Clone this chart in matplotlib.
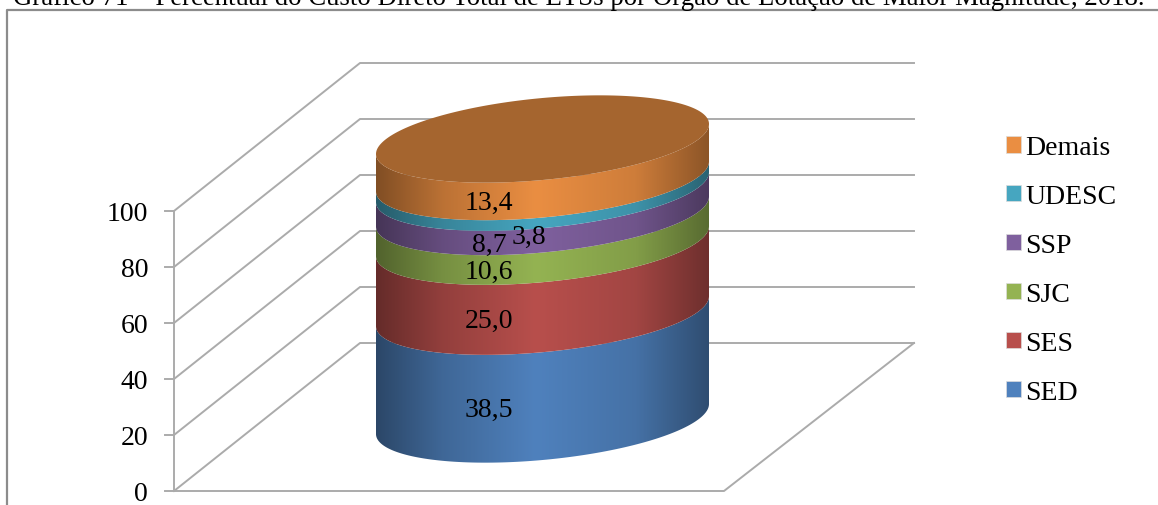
import numpy as np
import matplotlib
matplotlib.use("Agg")
import matplotlib.pyplot as plt
from matplotlib.colors import LinearSegmentedColormap, to_rgb
from matplotlib.patches import Patch, Polygon

plt.rcParams["font.family"] = ["Liberation Serif", "DejaVu Serif"]

TITLE = "Gráfico 71 – Percentual do Custo Direto Total de ETSs por Órgão de Lotação de Maior Magnitude, 2018."
CATEGORIES = ["SED", "SES", "SJC", "SSP", "UDESC", "Demais"]
VALUES = [38.5, 25.0, 10.6, 8.7, 3.8, 13.4]
LABELS = ["38,5", "25,0", "10,6", "8,7", "3,8", "13,4"]
COLORS = ["#4F81BD", "#B84F4C", "#94B352", "#7F609E", "#46A6C0", "#EA8E42"]
TOP_COLOR = "#A5652F"
YTICKS = [0, 20, 40, 60, 80, 100]

GRID = "#ABABAB"
FRAME = "#8C8C8C"

# geometry of the fake 3d box, in picture pixels
PX_PER_UNIT = 2.8
Y0_FRONT, Y0_BACK = 492, 344
X_FRONT, X_BACK = 174, 360
X_BACK_R, X_FRONT_R = 914, 724
CX, RX, RY, TILT = 542.5, 166.5, 41, 15
CY0 = 420


def front_y(v):
    return Y0_FRONT - v * PX_PER_UNIT


def back_y(v):
    return Y0_BACK - v * PX_PER_UNIT


def ellipse(v, t):
    cy = CY0 - v * PX_PER_UNIT
    return CX + RX * np.cos(t), cy - TILT * np.cos(t) + RY * np.sin(t)


fig = plt.figure(figsize=(11.58, 5.06), dpi=100)
ax = fig.add_axes([0, 0, 1, 1])
ax.set_xlim(0, 1158)
ax.set_ylim(506, 0)
ax.axis("off")

# frame and title
ax.plot([7, 7, 1158], [506, 11, 11], color=FRAME, lw=1.6, zorder=1)
ax.text(13, 5, TITLE, fontsize=19.3, color="black", va="baseline", ha="left", zorder=5)

# walls and floor
for v in YTICKS:
    ax.plot([X_FRONT, X_BACK, X_BACK_R], [front_y(v), back_y(v), back_y(v)], color=GRID, lw=1.4, zorder=1)
    ax.plot([X_FRONT - 9, X_FRONT], [front_y(v), front_y(v)], color=GRID, lw=1.4, zorder=1)
    ax.text(X_FRONT - 26, front_y(v) + 2.5, str(v), fontsize=20, ha="right", va="center", zorder=5)
ax.plot([X_FRONT, X_FRONT], [front_y(0), front_y(100)], color=GRID, lw=1.4, zorder=1)
ax.plot([X_FRONT, X_FRONT_R, X_BACK_R], [Y0_FRONT, Y0_FRONT, Y0_BACK], color=GRID, lw=1.4, zorder=1)

# cylinder bands, shaded left to right
t_front = np.linspace(0, np.pi, 200)
tops = np.cumsum(VALUES)
bottoms = tops - np.array(VALUES)
for lo, hi, col in zip(bottoms, tops, COLORS):
    x1, y1 = ellipse(lo, t_front)
    x2, y2 = ellipse(hi, t_front[::-1])
    poly = Polygon(np.column_stack([np.r_[x1, x2], np.r_[y1, y2]]), closed=True,
                   facecolor="none", edgecolor="none", transform=ax.transData)
    ax.add_patch(poly)
    rgb = np.array(to_rgb(col))
    cmap = LinearSegmentedColormap.from_list(
        "band", [(0, rgb * 0.55), (0.2, rgb * 0.8), (0.48, rgb), (0.78, rgb * 0.88), (1, rgb * 0.6)])
    im = ax.imshow(np.linspace(0, 1, 256)[None, :], cmap=cmap, aspect="auto",
                   extent=[CX - RX, CX + RX, y1.max() + 2, y2.min() - 2], zorder=3)
    im.set_clip_path(poly)

ax.set_xlim(0, 1158)
ax.set_ylim(506, 0)

# top cap
t_all = np.linspace(0, 2 * np.pi, 400)
xt, yt = ellipse(tops[-1], t_all)
ax.fill(xt, yt, color=TOP_COLOR, lw=0, zorder=3.5)

# value labels sit on the front surface, 3,8 was dragged aside in the original
offsets = {"3,8": (40, 10)}
for lab, lo, hi in zip(LABELS, bottoms, tops):
    dx, dy = offsets.get(lab, (0, 0))
    t = np.arccos((489 - CX) / RX)
    _, ly = ellipse((lo + hi) / 2, t)
    ax.text(489 + dx, ly + dy + 1, lab, fontsize=20, ha="center", va="center", zorder=6)

# legend, last series on top
handles = [Patch(facecolor=c, edgecolor="#DDDDDD", lw=0.5, label=n) for n, c in zip(CATEGORIES, COLORS)][::-1]
ax.legend(handles=handles, loc="upper left", bbox_to_anchor=(998 / 1158, 1 - 128 / 506), frameon=False,
          fontsize=20, handlelength=0.52, handleheight=0.52, handletextpad=0.16,
          labelspacing=0.86, borderpad=0.3, borderaxespad=0)

fig.savefig("out.png", dpi=100)
